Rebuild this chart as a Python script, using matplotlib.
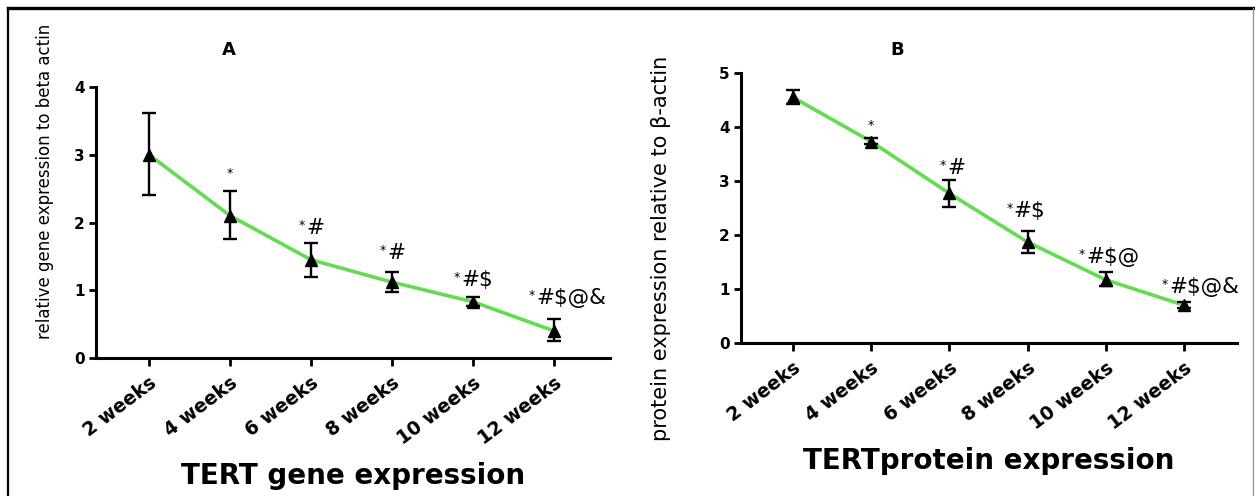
import matplotlib
matplotlib.use('Agg')
import matplotlib.pyplot as plt
from matplotlib.lines import Line2D
from matplotlib.transforms import ScaledTranslation

weeks = ['2 weeks', '4 weeks', '6 weeks', '8 weeks', '10 weeks', '12 weeks']

# panel A: TERT gene expression (mean, lower / upper error)
gene_mean = [3.0, 2.1, 1.45, 1.12, 0.83, 0.4]
gene_lo = [0.6, 0.35, 0.25, 0.14, 0.06, 0.15]
gene_hi = [0.62, 0.37, 0.25, 0.15, 0.07, 0.18]
gene_marks = ['*', '*#', '*#', '*#$', '*#$@&']

# panel B: TERT protein expression
prot_mean = [4.55, 3.73, 2.77, 1.87, 1.17, 0.70]
prot_lo = [0.13, 0.05, 0.25, 0.2, 0.12, 0.05]
prot_hi = [0.13, 0.07, 0.25, 0.2, 0.15, 0.05]
prot_marks = ['*', '*#', '*#$', '*#$@', '*#$@&']

GREEN = '#62dc50'


def draw_panel(ax, mean, lo, hi, marks, ymax, xlim, offsets):
    x = range(len(weeks))
    ax.plot(x, mean, color=GREEN, lw=2.6, zorder=2)
    ax.errorbar(x, mean, yerr=[lo, hi], fmt='none', ecolor='black',
                elinewidth=1.7, capsize=5, capthick=1.7, zorder=3)
    ax.plot(x, mean, '^', color='black', ms=9, zorder=4)

    for i, m in enumerate(marks):
        j = i + 1
        top = mean[j] + hi[j]
        dx, dy = offsets[i]
        rest = m[1:]
        if rest:
            t = ax.annotate(rest, xy=(j, top), xytext=(dx, dy),
                            textcoords='offset pixels', ha='center',
                            va='bottom', fontsize=15.5)
            ax.annotate('*', xy=(0, 0.95), xycoords=t, xytext=(-1, 0),
                        textcoords='offset pixels', ha='right', va='top',
                        fontsize=9)
        else:
            ax.annotate('*', xy=(j, top), xytext=(dx, dy),
                        textcoords='offset pixels', ha='center',
                        va='bottom', fontsize=9)

    ax.set_ylim(0, ymax)
    ax.set_xlim(*xlim)
    ax.set_yticks(range(ymax + 1))
    ax.set_xticks(list(x))
    ax.set_xticklabels(weeks, rotation=37, ha='right', va='top',
                       rotation_mode='anchor', fontweight='bold', fontsize=13.5)
    shift = ScaledTranslation(-0.065, -0.01, ax.figure.dpi_scale_trans)
    for lab in ax.get_xticklabels():
        lab.set_transform(lab.get_transform() + shift)
    for lab in ax.get_yticklabels():
        lab.set_fontweight('bold')
        lab.set_fontsize(11)
    for s in ['top', 'right']:
        ax.spines[s].set_visible(False)
    for s in ['left', 'bottom']:
        ax.spines[s].set_linewidth(2.2)
    ax.tick_params(axis='y', length=5, width=2, pad=3)
    ax.tick_params(axis='x', length=6, width=2, pad=5)


fig = plt.figure(figsize=(12.55, 4.96), dpi=100)

axA = fig.add_axes([0.0765, 0.278, 0.4096, 0.5468])
draw_panel(axA, gene_mean, gene_lo, gene_hi, gene_marks, 4, (-0.655, 5.69),
           [(0, 11), (4, 5), (4, 9), (4, 7), (17, 11)])
axA.set_ylabel('relative gene expression to beta actin', fontsize=12)
axA.yaxis.set_label_coords(-0.081, 0.65)
axA.set_xlabel('TERT gene expression', fontsize=20, fontweight='bold', labelpad=10)

axB = fig.add_axes([0.5904, 0.3085, 0.3953, 0.5443])
draw_panel(axB, prot_mean, prot_lo, prot_hi, prot_marks, 5, (-0.665, 5.68),
           [(0, 6), (7, 2), (2, 10), (7, 5), (20, 5)])
axB.set_ylabel('protein expression relative to \u03b2-actin', fontsize=15)
axB.yaxis.set_label_coords(-0.14, 0.35)
axB.set_xlabel('TERTprotein expression', fontsize=20, fontweight='bold', labelpad=10)

fig.text(229 / 1255, 1 - 50 / 496, 'A', fontsize=13, fontweight='bold',
         ha='center', va='center')
fig.text(897 / 1255, 1 - 50 / 496, 'B', fontsize=13, fontweight='bold',
         ha='center', va='center')

# outer frame (left/top black, right grey)
fig.add_artist(Line2D([0.0064, 0.0064], [0, 0.983], color='black', lw=1.6))
fig.add_artist(Line2D([0.0064, 0.999], [0.983, 0.983], color='black', lw=2.4))
fig.add_artist(Line2D([0.9988, 0.9988], [0, 0.983], color='#999999', lw=1.0))

fig.savefig('out.png', dpi=100)
